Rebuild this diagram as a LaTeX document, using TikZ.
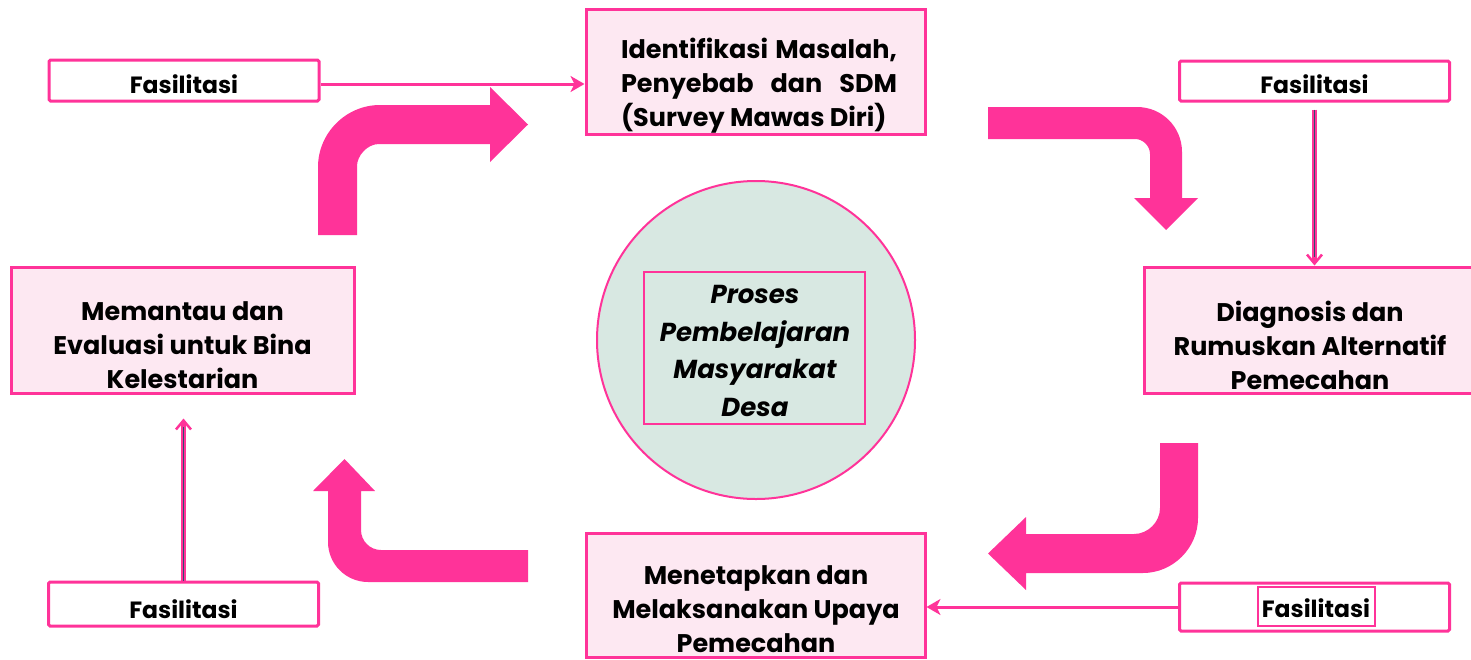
\documentclass[tikz,border=0pt]{standalone}
\usepackage{fontspec}
\setmainfont{Poppins}
\usetikzlibrary{arrows.meta,calc}
\definecolor{rose}{HTML}{FF3399}
\definecolor{blush}{HTML}{FDE8F2}
\definecolor{mist}{HTML}{D8E8E2}
\definecolor{slate}{HTML}{2F4F6F}
\begin{document}
\begin{tikzpicture}[x=1pt,y=-1pt,
  stagebox/.style={draw=rose, line width=3pt, fill=blush, inner sep=0pt},
  facbox/.style={draw=rose, line width=3pt, fill=white, rounded corners=1.5pt, inner sep=0pt, minimum width=270pt},
  stagetext/.style={inner sep=0pt, align=center, font=\fontsize{25.5}{34}\selectfont\bfseries},
  centertext/.style={inner sep=0pt, align=center, font=\fontsize{26}{37.7}\selectfont\bfseries\itshape},
  factext/.style={inner sep=0pt, font=\fontsize{23.5}{28}\selectfont\bfseries},
  bigarrow/.style={fill=rose},
  feed/.style={draw=rose, line width=3pt, -{Stealth[length=14pt,width=16pt,inset=4pt]}},
  feedpink/.style={draw=rose, line width=4.5pt, -{Straight Barb[length=9pt,width=15pt,line width=2.5pt]}},
  feedcore/.style={draw=slate, line width=1.6pt},
]
\useasboundingbox (0,0) rectangle (1471,659);

% ---- the four stages of the cycle ----
\node[stagebox, minimum width=339pt, minimum height=125pt] (idf) at (755.5,71.5) {};
\node[stagetext, text width=276pt, align=justify] (idftext) at (759,86)
  {Identifikasi Masalah,\linebreak Penyebab dan SDM\linebreak (Survey Mawas Diri)};

\node[stagebox, minimum width=331pt, minimum height=126pt] (diag) at (1310,330) {};
\node[stagetext] (diagtext) at (1310,345) {Diagnosis dan\\Rumuskan Alternatif\\Pemecahan};

\node[stagebox, minimum width=339pt, minimum height=124pt] (melak) at (755.5,595) {};
\node[stagetext] (melaktext) at (756,609) {Menetapkan dan\\Melaksanakan Upaya\\Pemecahan};

\node[stagebox, minimum width=343pt, minimum height=126pt] (memantau) at (182.5,330) {};
\node[stagetext] (memantautext) at (182.5,345) {Memantau dan\\Evaluasi untuk Bina\\Kelestarian};

% ---- centre of the cycle ----
\node[circle, draw=rose, line width=2pt, fill=mist, minimum size=318pt] (hub) at (756,340) {};
\node[draw=rose, line width=2pt, minimum width=221pt, minimum height=152pt, inner sep=0pt] (hubframe) at (754.5,348) {};
\node[centertext] (hubtext) at (755,351) {Proses\\Pembelajaran\\Masyarakat\\Desa};

% ---- facilitation boxes ----
\node[facbox, minimum height=41pt] (ftl) at (184,80.5) {};
\node[factext] (ftltext) at (184,84) {Fasilitasi};

\node[facbox, minimum height=40pt] (ftr) at (1314.5,81) {};
\node[factext] (ftrtext) at (1314.5,84.5) {Fasilitasi};

\node[facbox, minimum height=44pt] (fbl) at (183.5,604) {};
\node[factext] (fbltext) at (183.5,609) {Fasilitasi};

\node[facbox, minimum height=48pt] (fbr) at (1314.5,607) {};
\node[draw=rose, line width=2pt, minimum width=117pt, minimum height=39pt, inner sep=0pt] (fbrframe) at (1316.5,606.5) {};
\node[factext] (fbrtext) at (1316,608.5) {Fasilitasi};

% ---- facilitation connectors ----
\draw[feed] ($(ftl.east)+(0,3.5)$) -- ($(idf.west |- ftl.east)+(0,3.5)$);
\draw[feed] (fbr.west) -- (melak.east |- fbr.west);

\draw[feedpink, shorten <=7pt] (ftr.south) -- (diag.north -| ftr.south);
\draw[feedcore, shorten <=7pt, shorten >=9pt] (ftr.south) -- (diag.north -| ftr.south);

\draw[feedpink, shorten >=24pt] (fbl.north) -- (memantau.south -| fbl.north);
\draw[feedcore, shorten >=32pt] (fbl.north) -- (memantau.south -| fbl.north);

% ---- bent block arrows of the cycle ----
% up, then right towards the first stage
\fill[bigarrow] (318,235) -- (318,167) .. controls (318,133) and (346,105) .. (380,105)
  -- (490,105) -- (490,87) -- (528,124.5) -- (490,162) -- (490,144) -- (379,144)
  .. controls (367,144) and (357,156) .. (357,166) -- (357,235) -- cycle;
% right, then down towards the diagnosis
\fill[bigarrow] (988,107) -- (1137,107) .. controls (1162,107) and (1182,127) .. (1182,152)
  -- (1182,198) -- (1198,198) -- (1166,230) -- (1134,198) -- (1150,198) -- (1150,154)
  .. controls (1150,146) and (1143,139) .. (1135,139) -- (988,139) -- cycle;
% down, then left towards the action stage
\fill[bigarrow] (1160,443) -- (1198,443) -- (1198,518) .. controls (1198,548) and (1173,573) .. (1143,573)
  -- (1026,573) -- (1026,590) -- (988,553.5) -- (1026,517) -- (1026,534) -- (1134,534)
  .. controls (1148,534) and (1160,522) .. (1160,508) -- cycle;
% left, then up towards the monitoring stage
\fill[bigarrow] (528,550) -- (381,550) .. controls (370,550) and (361,541) .. (361,530)
  -- (361,491) -- (375,491) -- (344.5,459) -- (313,491) -- (328,491) -- (328,542)
  .. controls (328,564) and (346,582) .. (368,582) -- (528,582) -- cycle;
\end{tikzpicture}
\end{document}
